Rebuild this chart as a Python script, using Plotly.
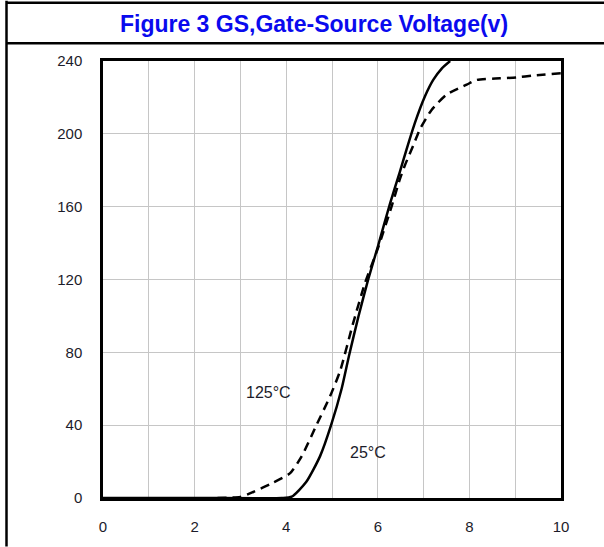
import plotly.graph_objects as go

# 25°C curve (solid)
vgs_25 = [0.0, 2.0, 3.9, 4.12, 4.44, 4.74, 4.98, 5.21, 5.37, 5.58, 5.79, 6.0, 6.27, 6.48, 6.63, 6.81, 7.03, 7.21, 7.4, 7.58]
id_25 = [0.0, 0.0, 0.0, 0.7, 8.9, 23, 40, 60, 78, 100, 120, 138, 162, 179, 191.6, 206, 220.6, 229.6, 236, 240]

# 125°C curve (dashed)
vgs_125 = [2.5, 3.0, 3.28, 3.68, 4.08, 4.34, 4.66, 4.96, 5.18, 5.45, 5.72, 6.0, 6.3, 6.48, 6.59, 6.77, 6.92, 7.17, 7.5, 7.94, 8.16, 8.67, 9.03, 9.39, 10.0]
id_125 = [0.0, 0.6, 3.3, 8, 13.5, 23, 40, 56, 70, 95, 118, 137, 160, 175, 182.6, 193.4, 202.5, 213, 221.5, 227, 229.6, 230.5, 231, 232, 233.3]

x_ticks = [0, 2, 4, 6, 8, 10]
y_ticks = [0, 40, 80, 120, 160, 200, 240]

W, H = 604, 547
L, R, T, B = 103, 561, 61, 503


def px(x):
    return (x - L) / (R - L)


def py(y):
    return (B - y) / (B - T)


fig = go.Figure()
fig.add_trace(go.Scatter(x=vgs_25, y=id_25, mode="lines",
                         line=dict(color="black", width=2.5, shape="spline", smoothing=0.6),
                         showlegend=False, cliponaxis=True))
fig.add_trace(go.Scatter(x=vgs_125, y=id_125, mode="lines",
                         line=dict(color="black", width=2.5, dash="9px,6px", shape="spline", smoothing=0.6),
                         showlegend=False, cliponaxis=True))

font_tick = dict(family="Liberation Sans, Arial, sans-serif", size=15, color="#1c1c2a")

fig.update_layout(
    width=W, height=H,
    margin=dict(l=L, r=W - R, t=T, b=H - B),
    paper_bgcolor="white", plot_bgcolor="white",
    title=dict(text="<b>Figure 3 GS,Gate-Source Voltage(v)</b>",
               font=dict(family="Liberation Sans, Arial, sans-serif", size=23, color="#0a0aee"),
               x=314 / W, xanchor="center", y=1 - 24 / H, yanchor="middle", xref="container", yref="container"),
    xaxis=dict(range=[0, 10], tickvals=x_ticks, ticktext=[str(v) for v in x_ticks],
               showgrid=True, gridcolor="#c6c6c6", gridwidth=1,
               minor=dict(dtick=1, showgrid=True, gridcolor="#c6c6c6", gridwidth=1),
               showline=True, linecolor="black", linewidth=2.5, mirror=True,
               ticks="", ticklabelstandoff=13, tickfont=font_tick, zeroline=False, fixedrange=True),
    yaxis=dict(range=[0, 240], tickvals=y_ticks, ticktext=[str(v) for v in y_ticks],
               showgrid=True, gridcolor="#c6c6c6", gridwidth=1,
               showline=True, linecolor="black", linewidth=2.5, mirror=True,
               ticks="", ticklabelstandoff=15, tickfont=font_tick, zeroline=False, fixedrange=True),
)

annot_font = dict(family="Liberation Sans, Arial, sans-serif", size=16, color="#1c1c2a")
fig.add_annotation(x=(268 - L) / (R - L) * 10, y=(B - 396) / (B - T) * 240, text="125°C",
                   showarrow=False, font=annot_font, xanchor="center", yanchor="middle")
fig.add_annotation(x=(368 - L) / (R - L) * 10, y=(B - 457) / (B - T) * 240, text="25°C",
                   showarrow=False, font=annot_font, xanchor="center", yanchor="middle")

# outer frame lines (title band)
frame = dict(color="black", width=2.5)
fig.add_shape(type="line", xref="paper", yref="paper", x0=px(6), x1=px(W + 5), y0=py(2), y1=py(2), line=frame)
fig.add_shape(type="line", xref="paper", yref="paper", x0=px(6), x1=px(W + 5), y0=py(43), y1=py(43), line=frame)
fig.add_shape(type="line", xref="paper", yref="paper", x0=px(6.5), x1=px(6.5), y0=py(0), y1=py(H + 5), line=frame)

fig.write_html("out.html", config={"displayModeBar": False},
               post_script="document.body.style.margin='0';document.body.style.overflow='hidden';")
